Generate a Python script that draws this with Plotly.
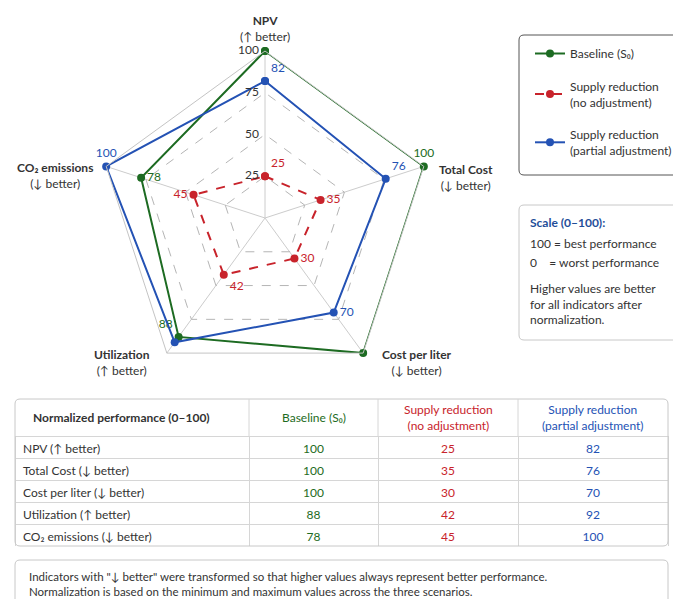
import plotly.graph_objects as go

W, H = 673, 599

# ---------------- data ----------------
categories = ["NPV", "Total Cost", "Cost per liter", "Utilization", "CO₂ emissions"]
table_labels = ["NPV (↑ better)", "Total Cost (↓ better)", "Cost per liter (↓ better)",
                "Utilization (↑ better)", "CO₂ emissions (↓ better)"]
table_headers = ["<b>Normalized performance (0–100)</b>", "Baseline (S₀)",
                 "Supply reduction<br>(no adjustment)", "Supply reduction<br>(partial adjustment)"]
baseline = [100, 100, 100, 88, 78]
no_adjust = [25, 35, 30, 42, 45]
partial_adjust = [82, 76, 70, 92, 100]
radial_ticks = [0, 25, 50, 75, 100]

# which points carry a value label, and where
baseline_show = [False, True, False, True, True]
baseline_pos = ["top center", "top center", "top center", "top left", "middle right"]
no_adjust_show = [True, True, True, True, True]
no_adjust_pos = ["top right", "middle right", "middle right", "bottom right", "middle left"]
partial_show = [True, True, True, False, True]
partial_pos = ["top right", "top right", "middle right", "top center", "top center"]

GREEN = "#1d6b22"
RED = "#c8232b"
BLUE = "#2452b4"
DARK = "#333333"
FONT = "Lato"
col_colors = [DARK, GREEN, RED, BLUE]
col_widths = [234, 129, 140, 150]


def px(x, y):
    return x / W, 1 - y / H


def closed(v):
    return list(v) + [v[0]]


def labels(vals, show):
    t = [str(v) if s else "" for v, s in zip(vals, show)]
    return t + [""]


fig = go.Figure()

series = [
    ("Baseline (S₀)", baseline, baseline_show, baseline_pos, GREEN, "solid"),
    ("Supply reduction<br>(no adjustment)", no_adjust, no_adjust_show, no_adjust_pos, RED, "dash"),
    ("Supply reduction<br>(partial adjustment)", partial_adjust, partial_show, partial_pos, BLUE, "solid"),
]

for i, (name, vals, show, pos, col, dash) in enumerate(series):
    fig.add_trace(go.Scatterpolar(
        r=closed(vals), theta=closed(categories),
        mode="lines+markers+text",
        name=name,
        legendgroup=f"g{i}",
        line=dict(color=col, width=2, dash=dash),
        marker=dict(color=col, size=8),
        text=labels(vals, show),
        textposition=pos + [pos[0]],
        textfont=dict(color=col, size=12, family=FONT),
        cliponaxis=False,
    ))

# radial tick labels, set to the left of the NPV spoke
fig.add_trace(go.Scatterpolar(
    r=radial_ticks, theta=[categories[0]] * len(radial_ticks),
    mode="text", text=[f"{t}&nbsp;&nbsp;" for t in radial_ticks],
    textposition="middle left", showlegend=False, hoverinfo="skip",
    textfont=dict(color=DARK, size=12, family=FONT), cliponaxis=False,
))

# ---------------- table ----------------
TX0, TX1 = 15, 668
TY0, THEAD, TY1 = 399, 436, 546
table_cols = [table_labels, baseline, no_adjust, partial_adjust]
row_style = dict(
    font=dict(family=FONT, size=12, color=col_colors),
    align=["left", "center", "center", "center"],
    height=22,
    fill_color="white",
    line=dict(color="#d6d6d6", width=1),
)
fig.add_trace(go.Table(
    domain=dict(x=[TX0 / W, TX1 / W], y=[1 - TY1 / H, 1 - THEAD / H]),
    columnwidth=col_widths,
    header=dict(values=[c[0] for c in table_cols], **row_style),
    cells=dict(values=[c[1:] for c in table_cols], **row_style),
))


def rounded_rect(x0, y0, x1, y1, r, color, width=1, open_right=False):
    rx, ry = r / W, r / H
    X0, Y0 = px(x0, y0)
    X1, Y1 = px(x1, y1)
    if open_right:
        path = (f"M {X1},{Y0} L {X0+rx},{Y0} Q {X0},{Y0} {X0},{Y0-ry} "
                f"L {X0},{Y1+ry} Q {X0},{Y1} {X0+rx},{Y1} L {X1},{Y1}")
    else:
        path = (f"M {X0+rx},{Y0} L {X1-rx},{Y0} Q {X1},{Y0} {X1},{Y0-ry} "
                f"L {X1},{Y1+ry} Q {X1},{Y1} {X1-rx},{Y1} L {X0+rx},{Y1} "
                f"Q {X0},{Y1} {X0},{Y1+ry} L {X0},{Y0-ry} Q {X0},{Y0} {X0+rx},{Y0} Z")
    return dict(type="path", path=path, xref="paper", yref="paper",
                line=dict(color=color, width=width), fillcolor="rgba(0,0,0,0)", layer="above")


def vline(x, y0, y1, color):
    X, Y0 = px(x, y0)
    _, Y1 = px(x, y1)
    return dict(type="line", xref="paper", yref="paper", x0=X, x1=X, y0=Y0, y1=Y1,
                line=dict(color=color, width=1))


shapes = [
    rounded_rect(519, 35, W, 175, 5, "#555555", open_right=True),
    rounded_rect(519, 205, W, 340, 5, "#c8c8c8", open_right=True),
    rounded_rect(TX0, TY0, TX1, TY1, 5, "#c8c8c8"),
    rounded_rect(15, 560, 668, H + 10, 5, "#c8c8c8"),
]

annotations = []


def ann(x, y, text, size=12, color=DARK, xanchor="center", align="center"):
    X, Y = px(x, y)
    annotations.append(dict(x=X, y=Y, xref="paper", yref="paper", text=text,
                            showarrow=False, xanchor=xanchor, yanchor="middle",
                            align=align, font=dict(family=FONT, size=size, color=color)))


# table header (column edges derived from the column widths)
scale = (TX1 - TX0) / sum(col_widths)
edges = [TX0]
for w in col_widths:
    edges.append(edges[-1] + w * scale)
for k, (txt, col) in enumerate(zip(table_headers, col_colors)):
    if k == 0:
        ann(edges[0] + 16, (TY0 + THEAD) / 2, txt, color=col, xanchor="left", align="left")
    else:
        ann((edges[k] + edges[k + 1]) / 2, (TY0 + THEAD) / 2, txt, color=col)
        shapes.append(vline(edges[k], TY0, THEAD, "#d6d6d6"))

# axis category labels
ann(265, 28, "<b>NPV</b><br>(↑ better)")
ann(466, 178, "<b>Total Cost</b><br>(↓ better)")
ann(417, 362, "<b>Cost per liter</b><br>(↓ better)")
ann(122, 362, "<b>Utilization</b><br>(↑ better)")
ann(55, 176, "<b>CO₂ emissions</b><br>(↓ better)")

# scale box
ann(528, 222, "<b>Scale (0–100):</b>", color="#1f4e99", xanchor="left", align="left")
ann(528, 244, "100 = best performance", xanchor="left", align="left")
ann(528, 262, "0&nbsp;&nbsp;&nbsp;&nbsp;= worst performance", xanchor="left", align="left")
ann(528, 304, "Higher values are better<br>for all indicators after<br>normalization.",
    xanchor="left", align="left")

# footnote
ann(27, 584, "Indicators with \"↓ better\" were transformed so that higher values always represent better performance."
    "<br>Normalization is based on the minimum and maximum values across the three scenarios.",
    size=11.5, xanchor="left", align="left")

lx, ly = px(530, 39)

fig.update_layout(
    width=W, height=H,
    margin=dict(l=0, r=0, t=0, b=0, autoexpand=False),
    paper_bgcolor="white",
    font=dict(family=FONT, size=12, color=DARK),
    polar=dict(
        domain=dict(x=[98 / W, 432 / W], y=[1 - 385 / H, 1 - 51 / H]),
        bgcolor="white",
        gridshape="linear",
        radialaxis=dict(
            range=[0, 100], tickvals=radial_ticks, showticklabels=False,
            angle=90, showline=False, ticks="",
            gridcolor="#b5b5b5", griddash="dash", gridwidth=1,
        ),
        angularaxis=dict(
            rotation=90, direction="clockwise", showticklabels=False, ticks="",
            gridcolor="#cccccc", linecolor="#c4c4c4", showline=True,
        ),
    ),
    legend=dict(
        x=lx, y=ly, xanchor="left", yanchor="top",
        bgcolor="rgba(0,0,0,0)", borderwidth=0,
        font=dict(family=FONT, size=12, color=DARK),
        tracegroupgap=14,
    ),
    shapes=shapes,
    annotations=annotations,
)

fig.write_html(
    "out.html",
    config={"displayModeBar": False},
    post_script="document.body.style.margin='0';document.body.style.overflow='hidden';"
                "document.documentElement.style.overflow='hidden';",
)
